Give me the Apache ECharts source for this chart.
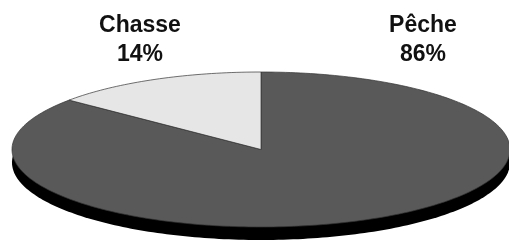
<!DOCTYPE html>
<html>
<head>
<meta charset="utf-8">
<script src="https://cdn.jsdelivr.net/npm/echarts@6/dist/echarts.min.js"></script>
<style>
  html, body { margin: 0; padding: 0; background: #fff; }
  #chart { width: 509px; height: 241px; }
</style>
</head>
<body>
<div id="chart"></div>
<script>
// data
const categories = ["Pêche", "Chasse"];
const shares = [86, 14];
const sliceColors = ["#595959", "#e6e6e6"];

// ellipse layout (flattened pie)
const cx = 261, cy = 149.5, rx = 249, ry = 77.5, depth = 13;
// label anchors (top of chart)
const labelPos = { "Pêche": [423, 40], "Chasse": [140, 40] };

const total = shares.reduce((a, b) => a + b, 0);

function ellPoint(theta, dy) {
  // theta clockwise from 12 o'clock
  return [cx + rx * Math.sin(theta), cy + (dy || 0) - ry * Math.cos(theta)];
}

function arcPoints(a0, a1, dy) {
  const pts = [];
  const n = Math.max(8, Math.ceil(Math.abs(a1 - a0) / 0.02));
  for (let i = 0; i <= n; i++) pts.push(ellPoint(a0 + (a1 - a0) * i / n, dy));
  return pts;
}

const chart = echarts.init(document.getElementById("chart"), null, { renderer: "canvas" });

chart.setOption({
  animation: false,
  series: [
    {
      // extrusion / base
      type: "custom",
      coordinateSystem: "none",
      silent: true,
      data: [0],
      renderItem() {
        return {
          type: "polygon",
          shape: { points: arcPoints(0, Math.PI * 2, depth) },
          style: { fill: "#000" }
        };
      }
    },
    {
      type: "custom",
      coordinateSystem: "none",
      data: categories.map((c, i) => ({ name: c, value: shares[i] })),
      renderItem(params, api) {
        const idx = params.dataIndex;
        let before = 0;
        for (let i = 0; i < idx; i++) before += shares[i];
        const a0 = before / total * Math.PI * 2;
        const a1 = (before + shares[idx]) / total * Math.PI * 2;
        const pts = [[cx, cy]].concat(arcPoints(a0, a1, 0));
        const name = categories[idx];
        const pos = labelPos[name];
        return {
          type: "group",
          children: [
            {
              type: "polygon",
              shape: { points: pts },
              style: { fill: sliceColors[idx], stroke: "#333", lineWidth: 0.7 }
            },
            {
              type: "text",
              x: pos[0],
              y: pos[1],
              style: {
                text: name + "\n" + Math.round(shares[idx] / total * 100) + "%",
                fill: "#111",
                font: "bold 23px 'Liberation Sans', Arial, sans-serif",
                align: "center",
                verticalAlign: "middle",
                lineHeight: 29
              }
            }
          ]
        };
      }
    }
  ]
});
</script>
</body>
</html>
